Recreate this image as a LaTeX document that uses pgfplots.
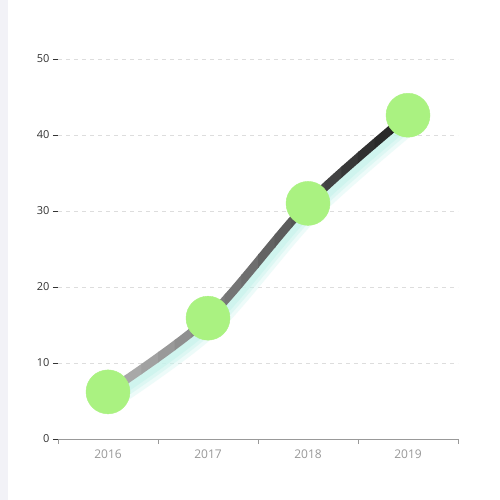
\documentclass[border=0pt]{standalone}
\usepackage{fontspec}
\setmainfont{Open Sans}
\usepackage{pgfplots}
\pgfplotsset{compat=1.18}
\definecolor{dotgreen}{HTML}{AAF281}
\definecolor{glow}{HTML}{C6F3EC}
\definecolor{gridgray}{HTML}{DDDDDD}
\definecolor{axisgray}{HTML}{999999}
\definecolor{labeldark}{HTML}{333333}
\definecolor{strip}{HTML}{F2F2F7}

\begin{document}
\begin{tikzpicture}[x=1pt,y=1pt]
  % page background, axis box starts at (58,61) from the lower left
  \fill[white] (-58,-61) rectangle (442,439);
  \fill[strip] (-58,-61) rectangle (-50,439);
  \begin{axis}[
    scale only axis,
    width=400pt, height=380pt,
    xmin=-0.5, xmax=3.5,
    ymin=0, ymax=50,
    clip=false,
    axis line style={draw=none},
    xtick={0,1,2,3},
    xticklabels={2016,2017,2018,2019},
    minor xtick={-0.5,0.5,1.5,2.5,3.5},
    ytick={0,10,...,50},
    xtick pos=bottom, ytick pos=left,
    tick align=outside,
    x tick style={draw=none},
    minor x tick style={draw=axisgray, line width=0.8pt},
    minor tick length=5pt,
    y tick style={draw=labeldark, line width=0.8pt},
    major tick length=5pt,
    ymajorgrids,
    grid style={gridgray, dash pattern=on 4pt off 4pt, line width=0.7pt},
    x tick label style={font=\fontsize{12}{14}\selectfont, text=axisgray, yshift=-2pt},
    y tick label style={font=\fontsize{11}{13}\selectfont, text=labeldark},
    /pgf/number format/assume math mode=true,
  ]
    \draw[axisgray, line width=0.8pt] (axis cs:-0.5,0) -- (axis cs:3.5,0);

    % soft glow under the line
    \addplot[glow, opacity=0.3, line width=18pt, smooth, xshift=3pt, yshift=-9pt]
      coordinates {(0,6.2) (1,15.9) (2,31.0) (3,42.6)};
    \addplot[glow, opacity=0.4, line width=12pt, smooth, xshift=3pt, yshift=-8pt]
      coordinates {(0,6.2) (1,15.9) (2,31.0) (3,42.6)};
    \addplot[glow, opacity=0.6, line width=7pt, smooth, xshift=3pt, yshift=-7pt]
      coordinates {(0,6.2) (1,15.9) (2,31.0) (3,42.6)};

    % line with a grey-to-black gradient, drawn in vertical strips
    \pgfplotsinvokeforeach{0,...,23}{
      \begin{scope}
        \clip (axis cs:{-0.5+#1/6},-5) rectangle (axis cs:{-0.5+(#1+1.05)/6},55);
        \addplot[draw={black!\the\numexpr 20+#1*78/23\relax}, line width=8.5pt, smooth]
          coordinates {(0,6.2) (1,15.9) (2,31.0) (3,42.6)};
      \end{scope}
    }

    \addplot[dotgreen, only marks, mark=*, mark size=22pt,
      mark options={fill=dotgreen, draw=dotgreen}]
      coordinates {(0,6.2) (1,15.9) (2,31.0) (3,42.6)};
  \end{axis}
\end{tikzpicture}
\end{document}
